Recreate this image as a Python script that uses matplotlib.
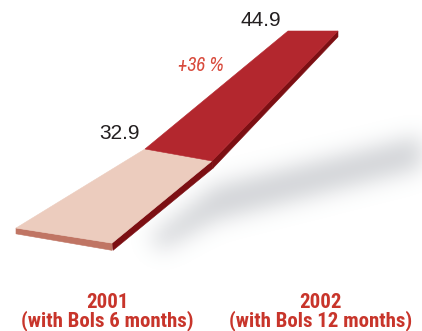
import numpy as np
import matplotlib
matplotlib.use("Agg")
import matplotlib.pyplot as plt
from matplotlib.patches import Polygon
from matplotlib.path import Path

# net sales, EUR million
years = ["2001", "2002"]
notes = ["(with Bols 6 months)", "(with Bols 12 months)"]
values = [32.9, 44.9]

W, H = 422, 331
PX_PER_UNIT = 10.333          # vertical pixels per unit of value
Y_TOP = 47.9                  # value at the top edge of the canvas
Y_BOT = Y_TOP - H / PX_PER_UNIT

# ribbon look
run_2001 = 7.8                # how far the 2001 strip runs back
tilt_front, tilt_mid = 0.73, 0.58
thick = 0.7

c_pink_top = "#ecccbe"
c_pink_front = "#c07564"
c_red_top = "#b3272e"
c_red_side = "#7c0f13"
c_label = "#c8352b"

COND_BOLD = ["Roboto Condensed", "Barlow Semi Condensed", "Liberation Sans", "DejaVu Sans"]
NARROW = ["Archivo Narrow", "Liberation Sans", "DejaVu Sans"]
PLAIN = ["Liberation Sans", "DejaVu Sans"]

fig = plt.figure(figsize=(W / 100, H / 100), dpi=100)
ax = fig.add_axes([0, 0, 1, 1])
ax.set_xlim(0, W)
ax.set_ylim(Y_BOT, Y_TOP)
ax.axis("off")


def gauss_blur(img, sigma):
    r = int(3 * sigma)
    k = np.exp(-0.5 * (np.arange(-r, r + 1) / sigma) ** 2)
    k /= k.sum()
    img = np.apply_along_axis(lambda m: np.convolve(m, k, mode="same"), 0, img)
    img = np.apply_along_axis(lambda m: np.convolve(m, k, mode="same"), 1, img)
    return img


# soft drop shadow behind the ribbon (canvas pixel space)
shadow_outline = [(150, 238), (215, 186), (430, 134),
                  (430, 166), (215, 220), (160, 250)]
gx, gy = np.meshgrid(np.arange(W) + 0.5, np.arange(H) + 0.5)
mask = Path(shadow_outline).contains_points(
    np.column_stack([gx.ravel(), gy.ravel()])).reshape(H, W).astype(float)
mask = gauss_blur(mask, 11)
rgba = np.zeros((H, W, 4))
rgba[..., :3] = (0.50, 0.52, 0.56)
rgba[..., 3] = mask * 0.36
ax.imshow(rgba, extent=(0, W, Y_BOT, Y_TOP), origin="upper",
          aspect="auto", zorder=0, interpolation="bilinear")

v0, v1 = values
vf = v0 - run_2001

# 2001 strip
pink_top = [(16, vf + tilt_front), (112, vf - tilt_front),
            (212, v0 - tilt_mid), (145, v0 + tilt_mid)]
pink_front = [(16, vf + tilt_front), (112, vf - tilt_front),
              (112, vf - tilt_front - thick), (16, vf + tilt_front - thick * 0.8)]
pink_side = [(112, vf - tilt_front), (212, v0 - tilt_mid),
             (213, v0 - tilt_mid - thick), (113, vf - tilt_front - thick)]

# 2002 strip
red_top = [(145, v0 + tilt_mid), (212, v0 - tilt_mid), (338, v1), (288, v1)]
red_side = [(212, v0 - tilt_mid), (338, v1), (338, v1 - thick * 0.8),
            (213, v0 - tilt_mid - thick)]

for pts, col in [(pink_side, c_red_side), (pink_front, c_pink_front),
                 (pink_top, c_pink_top), (red_side, c_red_side),
                 (red_top, c_red_top)]:
    ax.add_patch(Polygon(pts, closed=True, facecolor=col, edgecolor=col,
                         linewidth=0.4, zorder=2))

# value labels
ax.text(119, v0 + 2.1, f"{v0:.1f}", ha="center", va="center", fontsize=15,
        color="#231f20", family=PLAIN)
ax.text(261, v1 + 0.97, f"{v1:.1f}", ha="center", va="center", fontsize=15,
        color="#231f20", family=PLAIN)

growth = round((v1 - v0) / v0 * 100)
ax.text(201, 41.6, f"+{growth} %", ha="center", va="center", fontsize=14,
        style="italic", color="#d84a3c", family=NARROW)

# category labels under the chart
for xc, yr, note in zip([107, 321], years, notes):
    fig.text(xc / W, 0.058, f"{yr}\n{note}", ha="center", va="center",
             fontsize=15, fontweight="bold", color=c_label, linespacing=0.92,
             family=COND_BOLD)

fig.savefig("out.png", dpi=100)
